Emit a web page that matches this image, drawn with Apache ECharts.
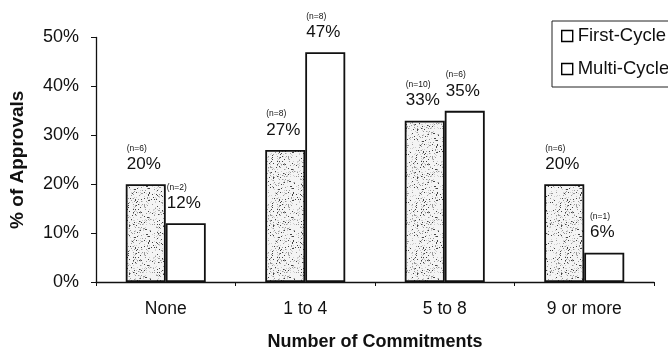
<!DOCTYPE html>
<html>
<head>
<meta charset="utf-8">
<script src="https://cdn.jsdelivr.net/npm/echarts@6/dist/echarts.min.js"></script>
<style>
  html, body { margin: 0; padding: 0; background: #fff; }
  #chart { width: 668px; height: 356px; }
</style>
</head>
<body>
<div id="chart"></div>
<script>
// Approval rates by number of commitments
const categories = ['None', '1 to 4', '5 to 8', '9 or more'];
const firstCycle = [20, 27, 33, 20];
const multiCycle = [12, 47, 35, 6];
const firstCycleN = [6, 8, 10, 6];
const multiCycleN = [2, 8, 6, 1];
const yTicks = [0, 10, 20, 30, 40, 50];

const FONT = 'Liberation Sans';

// Stippled fill for the first-cycle bars (fixed-seed speckle)
function makeStipple() {
  const c = document.createElement('canvas');
  c.width = 48; c.height = 48;
  const ctx = c.getContext('2d');
  ctx.fillStyle = '#f4f4f4';
  ctx.fillRect(0, 0, 48, 48);
  let s = 12345;
  const next = () => { s = (s * 1103515245 + 12345) & 0x7fffffff; return s / 0x7fffffff; };
  for (let i = 0; i < 420; i++) {
    const x = Math.floor(next() * 48), y = Math.floor(next() * 48);
    const g = next();
    ctx.fillStyle = g < 0.25 ? '#444' : (g < 0.6 ? '#9a9a9a' : '#cfcfcf');
    ctx.fillRect(x, y, 1, 1);
  }
  return c;
}

function labelFor(nArr) {
  return {
    show: true,
    position: 'top',
    distance: 10,
    offset: [-2, 0],
    formatter: p => '{n|(n=' + nArr[p.dataIndex] + ')}\n{v|' + p.value + '%}',
    rich: {
      n: { fontFamily: FONT, fontSize: 8.5, lineHeight: 12, color: '#111', align: 'left' },
      v: { fontFamily: FONT, fontSize: 17, lineHeight: 20, color: '#111' }
    }
  };
}

const chart = echarts.init(document.getElementById('chart'), null, { renderer: 'canvas' });
chart.setOption({
  backgroundColor: '#fff',
  animation: false,
  textStyle: { fontFamily: FONT },
  grid: { left: 96, right: 14, top: 37.5, bottom: 71, containLabel: false },
  legend: {
    orient: 'vertical',
    left: 552,
    top: 21,
    padding: [5, 60, 8, 9],
    itemGap: 13,
    itemWidth: 11,
    itemHeight: 11,
    icon: 'rect',
    borderColor: '#222',
    borderWidth: 1,
    itemStyle: { color: '#fff', borderColor: '#000', borderWidth: 1.4 },
    textStyle: { fontFamily: FONT, fontSize: 18.5, lineHeight: 20, color: '#111' },
    data: ['First-Cycle', 'Multi-Cycle']
  },
  xAxis: {
    type: 'category',
    data: categories,
    name: 'Number of Commitments',
    nameLocation: 'middle',
    nameGap: 51,
    nameTextStyle: { fontFamily: FONT, fontWeight: 'bold', fontSize: 18, color: '#111' },
    axisLine: { lineStyle: { color: '#111', width: 1.3 } },
    axisTick: { show: true, length: 4, lineStyle: { color: '#111' } },
    axisLabel: { fontFamily: FONT, fontSize: 17.5, color: '#111', margin: 18 }
  },
  yAxis: {
    type: 'value',
    min: 0,
    max: 50,
    interval: 10,
    name: '% of Approvals',
    nameLocation: 'middle',
    nameGap: 69,
    nameTextStyle: { fontFamily: FONT, fontWeight: 'bold', fontSize: 19, color: '#111' },
    axisLine: { show: true, lineStyle: { color: '#111', width: 1.3 } },
    axisTick: { show: true, length: 5, lineStyle: { color: '#111' } },
    splitLine: { show: false },
    axisLabel: {
      fontFamily: FONT, fontSize: 18, color: '#111', margin: 17,
      formatter: v => yTicks.includes(v) ? v + '%' : ''
    }
  },
  series: [
    {
      name: 'First-Cycle',
      type: 'bar',
      data: firstCycle,
      barWidth: 40,
      barGap: '0%',
      itemStyle: { color: { image: makeStipple(), repeat: 'repeat' }, borderColor: '#111', borderWidth: 1.8 },
      label: labelFor(firstCycleN)
    },
    {
      name: 'Multi-Cycle',
      type: 'bar',
      data: multiCycle,
      barWidth: 40,
      barGap: '0%',
      itemStyle: { color: '#fff', borderColor: '#111', borderWidth: 1.8 },
      label: labelFor(multiCycleN)
    }
  ]
});
</script>
</body>
</html>
